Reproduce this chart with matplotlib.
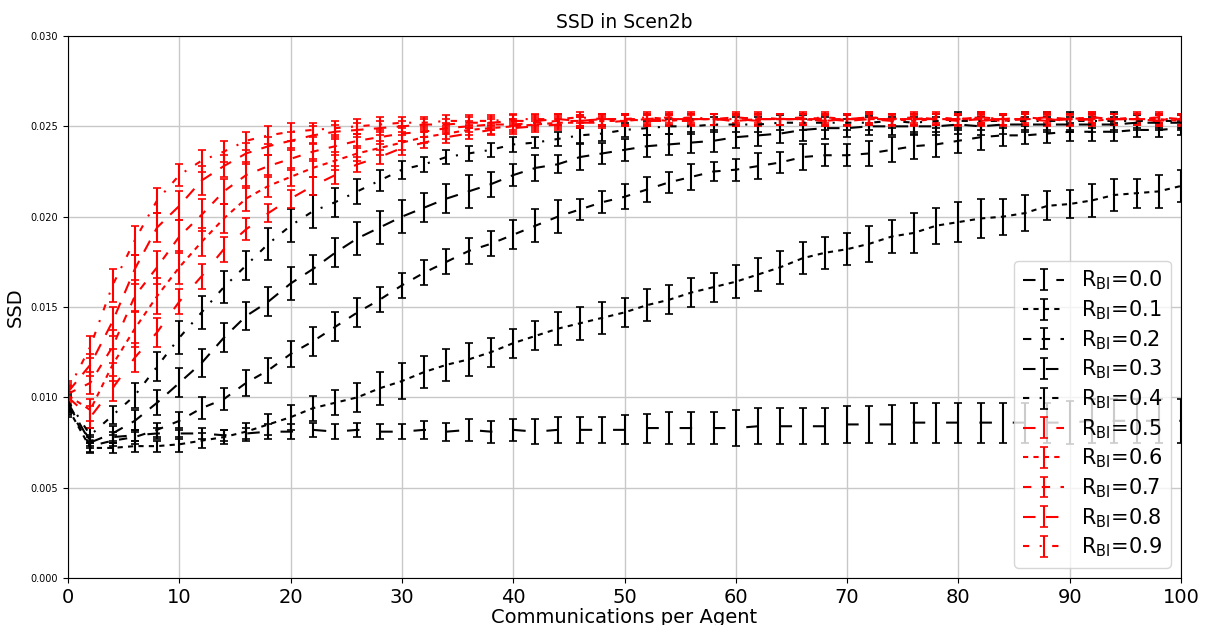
import matplotlib
matplotlib.use("Agg")
import matplotlib.pyplot as plt
from matplotlib.ticker import FormatStrFormatter
import numpy as np

# x positions: communications per agent
x = list(range(0, 101, 2))

labels = ["0.0", "0.1", "0.2", "0.3", "0.4", "0.5", "0.6", "0.7", "0.8", "0.9"]

s00 = [0.0096, 0.0076, 0.0078, 0.0079, 0.0080, 0.0080, 0.0080, 0.0079, 0.0080, 0.0081,
       0.0081, 0.0082, 0.0081, 0.0082, 0.0081, 0.0081, 0.0082, 0.0081, 0.0082, 0.0081,
       0.0082, 0.0081, 0.0082, 0.0082, 0.0082, 0.0082, 0.0083, 0.0083, 0.0083, 0.0083,
       0.0083, 0.0084, 0.0084, 0.0084, 0.0084, 0.0085, 0.0085, 0.0085, 0.0086, 0.0086,
       0.0086, 0.0086, 0.0086, 0.0086, 0.0086, 0.0086, 0.0087, 0.0087, 0.0087, 0.0087,
       0.0087]
e00 = [0.0005, 0.0003, 0.0003, 0.0003, 0.0003, 0.0003, 0.0003, 0.0003, 0.0003, 0.0004,
       0.0004, 0.0004, 0.0004, 0.0004, 0.0004, 0.0004, 0.0005, 0.0005, 0.0006, 0.0006,
       0.0006, 0.0007, 0.0007, 0.0007, 0.0007, 0.0008, 0.0008, 0.0009, 0.0009, 0.0009,
       0.0010, 0.0010, 0.0010, 0.0010, 0.0010, 0.0010, 0.0010, 0.0011, 0.0011, 0.0011,
       0.0011, 0.0011, 0.0011, 0.0011, 0.0011, 0.0012, 0.0012, 0.0012, 0.0012, 0.0012,
       0.0012]

s01 = [0.0094, 0.0072, 0.0072, 0.0073, 0.0073, 0.0074, 0.0076, 0.0078, 0.0081, 0.0085,
       0.0089, 0.0094, 0.0097, 0.0100, 0.0105, 0.0109, 0.0114, 0.0118, 0.0121, 0.0125,
       0.0130, 0.0134, 0.0138, 0.0141, 0.0144, 0.0147, 0.0151, 0.0154, 0.0158, 0.0161,
       0.0164, 0.0168, 0.0172, 0.0177, 0.0180, 0.0182, 0.0185, 0.0189, 0.0191, 0.0195,
       0.0197, 0.0199, 0.0200, 0.0202, 0.0206, 0.0207, 0.0209, 0.0212, 0.0213, 0.0214,
       0.0217]
e01 = [0.0005, 0.0003, 0.0003, 0.0003, 0.0003, 0.0004, 0.0004, 0.0004, 0.0005, 0.0006,
       0.0007, 0.0007, 0.0007, 0.0008, 0.0009, 0.0010, 0.0009, 0.0009, 0.0009, 0.0008,
       0.0008, 0.0008, 0.0009, 0.0009, 0.0009, 0.0008, 0.0009, 0.0008, 0.0008, 0.0008,
       0.0009, 0.0009, 0.0009, 0.0009, 0.0009, 0.0009, 0.0010, 0.0009, 0.0011, 0.0010,
       0.0011, 0.0011, 0.0010, 0.0010, 0.0008, 0.0008, 0.0009, 0.0009, 0.0008, 0.0009,
       0.0009]

s02 = [0.0095, 0.0073, 0.0076, 0.0078, 0.0082, 0.0087, 0.0094, 0.0099, 0.0108, 0.0115,
       0.0124, 0.0131, 0.0139, 0.0147, 0.0154, 0.0162, 0.0169, 0.0175, 0.0181, 0.0185,
       0.0190, 0.0195, 0.0200, 0.0204, 0.0208, 0.0211, 0.0215, 0.0219, 0.0222, 0.0225,
       0.0226, 0.0228, 0.0230, 0.0233, 0.0234, 0.0234, 0.0235, 0.0237, 0.0239, 0.0240,
       0.0242, 0.0244, 0.0245, 0.0245, 0.0246, 0.0247, 0.0247, 0.0247, 0.0248, 0.0248,
       0.0249]
e02 = [0.0005, 0.0003, 0.0003, 0.0004, 0.0004, 0.0005, 0.0006, 0.0006, 0.0007, 0.0007,
       0.0007, 0.0008, 0.0008, 0.0008, 0.0007, 0.0007, 0.0007, 0.0007, 0.0007, 0.0007,
       0.0008, 0.0009, 0.0009, 0.0006, 0.0006, 0.0007, 0.0007, 0.0006, 0.0007, 0.0005,
       0.0006, 0.0007, 0.0006, 0.0007, 0.0006, 0.0006, 0.0007, 0.0007, 0.0007, 0.0007,
       0.0007, 0.0007, 0.0006, 0.0005, 0.0005, 0.0005, 0.0005, 0.0005, 0.0004, 0.0004,
       0.0004]

s03 = [0.0097, 0.0075, 0.0080, 0.0087, 0.0097, 0.0108, 0.0119, 0.0133, 0.0145, 0.0153,
       0.0163, 0.0171, 0.0180, 0.0188, 0.0194, 0.0200, 0.0205, 0.0210, 0.0214, 0.0218,
       0.0223, 0.0227, 0.0229, 0.0233, 0.0235, 0.0237, 0.0239, 0.0240, 0.0241, 0.0242,
       0.0244, 0.0245, 0.0246, 0.0248, 0.0249, 0.0249, 0.0250, 0.0250, 0.0250, 0.0250,
       0.0251, 0.0250, 0.0251, 0.0251, 0.0251, 0.0251, 0.0251, 0.0251, 0.0252, 0.0252,
       0.0252]
e03 = [0.0005, 0.0003, 0.0004, 0.0006, 0.0007, 0.0008, 0.0008, 0.0008, 0.0008, 0.0008,
       0.0009, 0.0008, 0.0008, 0.0009, 0.0009, 0.0009, 0.0008, 0.0008, 0.0009, 0.0007,
       0.0006, 0.0007, 0.0005, 0.0007, 0.0006, 0.0006, 0.0006, 0.0006, 0.0006, 0.0006,
       0.0006, 0.0006, 0.0005, 0.0006, 0.0006, 0.0005, 0.0005, 0.0005, 0.0005, 0.0005,
       0.0005, 0.0005, 0.0005, 0.0004, 0.0004, 0.0004, 0.0004, 0.0004, 0.0004, 0.0004,
       0.0004]

s04 = [0.0098, 0.0079, 0.0090, 0.0101, 0.0117, 0.0133, 0.0147, 0.0161, 0.0173, 0.0185,
       0.0195, 0.0203, 0.0208, 0.0214, 0.0220, 0.0226, 0.0229, 0.0233, 0.0235, 0.0237,
       0.0240, 0.0241, 0.0243, 0.0245, 0.0246, 0.0248, 0.0249, 0.0250, 0.0250, 0.0251,
       0.0251, 0.0251, 0.0252, 0.0252, 0.0252, 0.0252, 0.0252, 0.0253, 0.0252, 0.0253,
       0.0253, 0.0253, 0.0253, 0.0253, 0.0253, 0.0253, 0.0253, 0.0253, 0.0253, 0.0253,
       0.0253]
e04 = [0.0005, 0.0004, 0.0005, 0.0007, 0.0008, 0.0009, 0.0009, 0.0009, 0.0008, 0.0009,
       0.0009, 0.0009, 0.0008, 0.0007, 0.0006, 0.0005, 0.0004, 0.0004, 0.0004, 0.0004,
       0.0004, 0.0003, 0.0004, 0.0004, 0.0004, 0.0004, 0.0004, 0.0004, 0.0004, 0.0004,
       0.0004, 0.0004, 0.0004, 0.0004, 0.0004, 0.0004, 0.0004, 0.0004, 0.0005, 0.0004,
       0.0005, 0.0005, 0.0004, 0.0005, 0.0005, 0.0005, 0.0004, 0.0005, 0.0004, 0.0004,
       0.0004]

s05 = [0.0100, 0.0089, 0.0105, 0.0122, 0.0136, 0.0153, 0.0167, 0.0182, 0.0193, 0.0202,
       0.0210, 0.0217, 0.0223, 0.0229, 0.0233, 0.0238, 0.0241, 0.0244, 0.0246, 0.0248,
       0.0249, 0.0250, 0.0251, 0.0252, 0.0252, 0.0253, 0.0253, 0.0253, 0.0253, 0.0254,
       0.0254, 0.0253, 0.0254, 0.0254, 0.0253, 0.0254, 0.0254, 0.0253, 0.0254, 0.0254,
       0.0254, 0.0253, 0.0254, 0.0254, 0.0254, 0.0253, 0.0254, 0.0254, 0.0254, 0.0253,
       0.0254]
e05 = [0.0005, 0.0006, 0.0007, 0.0008, 0.0008, 0.0007, 0.0007, 0.0007, 0.0006, 0.0005,
       0.0005, 0.0005, 0.0005, 0.0004, 0.0004, 0.0004, 0.0003, 0.0003, 0.0003, 0.0003,
       0.0003, 0.0003, 0.0003, 0.0003, 0.0003, 0.0003, 0.0003, 0.0003, 0.0003, 0.0003,
       0.0003, 0.0003, 0.0003, 0.0003, 0.0003, 0.0003, 0.0003, 0.0003, 0.0003, 0.0003,
       0.0003, 0.0003, 0.0003, 0.0003, 0.0003, 0.0003, 0.0003, 0.0003, 0.0003, 0.0003,
       0.0003]

s06 = [0.0101, 0.0093, 0.0118, 0.0138, 0.0156, 0.0172, 0.0186, 0.0199, 0.0210, 0.0217,
       0.0222, 0.0227, 0.0231, 0.0235, 0.0238, 0.0241, 0.0244, 0.0246, 0.0248, 0.0249,
       0.0250, 0.0251, 0.0252, 0.0252, 0.0253, 0.0253, 0.0254, 0.0253, 0.0254, 0.0254,
       0.0253, 0.0254, 0.0254, 0.0254, 0.0253, 0.0254, 0.0254, 0.0254, 0.0253, 0.0254,
       0.0254, 0.0254, 0.0253, 0.0254, 0.0254, 0.0254, 0.0253, 0.0254, 0.0254, 0.0254,
       0.0253]
e06 = [0.0005, 0.0006, 0.0009, 0.0010, 0.0010, 0.0009, 0.0008, 0.0008, 0.0007, 0.0006,
       0.0005, 0.0005, 0.0005, 0.0004, 0.0004, 0.0004, 0.0003, 0.0003, 0.0003, 0.0003,
       0.0003, 0.0003, 0.0003, 0.0003, 0.0003, 0.0003, 0.0003, 0.0003, 0.0003, 0.0003,
       0.0003, 0.0003, 0.0003, 0.0003, 0.0003, 0.0003, 0.0003, 0.0003, 0.0003, 0.0003,
       0.0003, 0.0003, 0.0003, 0.0003, 0.0003, 0.0003, 0.0003, 0.0003, 0.0003, 0.0003,
       0.0003]

s07 = [0.0102, 0.0108, 0.0128, 0.0156, 0.0172, 0.0189, 0.0201, 0.0214, 0.0223, 0.0228,
       0.0232, 0.0236, 0.0239, 0.0242, 0.0244, 0.0246, 0.0247, 0.0249, 0.0250, 0.0251,
       0.0251, 0.0252, 0.0253, 0.0253, 0.0254, 0.0254, 0.0254, 0.0255, 0.0254, 0.0254,
       0.0255, 0.0254, 0.0254, 0.0255, 0.0254, 0.0254, 0.0255, 0.0254, 0.0255, 0.0254,
       0.0254, 0.0255, 0.0254, 0.0254, 0.0255, 0.0254, 0.0255, 0.0254, 0.0254, 0.0255,
       0.0254]
e07 = [0.0005, 0.0006, 0.0009, 0.0009, 0.0009, 0.0009, 0.0009, 0.0007, 0.0007, 0.0006,
       0.0006, 0.0005, 0.0005, 0.0004, 0.0004, 0.0004, 0.0003, 0.0003, 0.0003, 0.0003,
       0.0003, 0.0003, 0.0003, 0.0003, 0.0003, 0.0003, 0.0003, 0.0003, 0.0003, 0.0003,
       0.0003, 0.0003, 0.0003, 0.0003, 0.0003, 0.0003, 0.0003, 0.0003, 0.0003, 0.0003,
       0.0003, 0.0003, 0.0003, 0.0003, 0.0003, 0.0003, 0.0003, 0.0003, 0.0003, 0.0003,
       0.0003]

s08 = [0.0103, 0.0118, 0.0142, 0.0171, 0.0194, 0.0206, 0.0220, 0.0228, 0.0235, 0.0239,
       0.0242, 0.0245, 0.0247, 0.0248, 0.0249, 0.0250, 0.0251, 0.0251, 0.0252, 0.0252,
       0.0253, 0.0253, 0.0254, 0.0253, 0.0254, 0.0254, 0.0253, 0.0254, 0.0254, 0.0254,
       0.0253, 0.0254, 0.0254, 0.0254, 0.0254, 0.0253, 0.0254, 0.0254, 0.0254, 0.0254,
       0.0253, 0.0254, 0.0254, 0.0254, 0.0253, 0.0254, 0.0254, 0.0254, 0.0254, 0.0253,
       0.0254]
e08 = [0.0005, 0.0006, 0.0008, 0.0008, 0.0008, 0.0008, 0.0008, 0.0006, 0.0006, 0.0005,
       0.0005, 0.0005, 0.0004, 0.0004, 0.0004, 0.0003, 0.0003, 0.0003, 0.0003, 0.0003,
       0.0003, 0.0003, 0.0003, 0.0003, 0.0003, 0.0003, 0.0003, 0.0003, 0.0003, 0.0003,
       0.0003, 0.0003, 0.0003, 0.0003, 0.0003, 0.0003, 0.0003, 0.0003, 0.0003, 0.0003,
       0.0003, 0.0003, 0.0003, 0.0003, 0.0003, 0.0003, 0.0003, 0.0003, 0.0003, 0.0003,
       0.0003]

s09 = [0.0104, 0.0128, 0.0162, 0.0187, 0.0209, 0.0223, 0.0231, 0.0236, 0.0242, 0.0245,
       0.0247, 0.0248, 0.0249, 0.0250, 0.0251, 0.0252, 0.0252, 0.0253, 0.0253, 0.0253,
       0.0254, 0.0254, 0.0254, 0.0255, 0.0254, 0.0254, 0.0255, 0.0254, 0.0255, 0.0254,
       0.0254, 0.0255, 0.0254, 0.0254, 0.0255, 0.0254, 0.0255, 0.0254, 0.0254, 0.0255,
       0.0254, 0.0255, 0.0254, 0.0255, 0.0254, 0.0254, 0.0255, 0.0254, 0.0255, 0.0254,
       0.0254]
e09 = [0.0005, 0.0006, 0.0009, 0.0008, 0.0007, 0.0006, 0.0006, 0.0006, 0.0005, 0.0005,
       0.0005, 0.0004, 0.0004, 0.0004, 0.0004, 0.0003, 0.0003, 0.0003, 0.0003, 0.0003,
       0.0003, 0.0003, 0.0003, 0.0003, 0.0003, 0.0003, 0.0003, 0.0003, 0.0003, 0.0003,
       0.0003, 0.0003, 0.0003, 0.0003, 0.0003, 0.0003, 0.0003, 0.0003, 0.0003, 0.0003,
       0.0003, 0.0003, 0.0003, 0.0003, 0.0003, 0.0003, 0.0003, 0.0003, 0.0003, 0.0003,
       0.0003]

series = [s00, s01, s02, s03, s04, s05, s06, s07, s08, s09]
errors = [e00, e01, e02, e03, e04, e05, e06, e07, e08, e09]

styles = [(0, (6, 10)), (0, (2.5, 2.5)), (0, (4, 5)), (0, (6, 5)), (0, (3, 5, 1, 5))]
colors = ["black"] * 5 + ["red"] * 5

fig = plt.figure(figsize=(12.06, 6.25), dpi=100)
ax = fig.add_axes([0.0564, 0.0752, 0.9229, 0.8672])

for i, (ys, es) in enumerate(zip(series, errors)):
    ax.errorbar(x, ys, yerr=es, color=colors[i], linestyle=styles[i % 5],
                linewidth=1.5, elinewidth=1.5, capsize=3, capthick=1.2,
                label=r"R$_{\mathregular{BI}}$=" + labels[i])

ax.set_xlim(0, 100)
ax.set_ylim(0, 0.030)
ax.set_xticks(range(0, 101, 10))
ax.set_yticks(np.arange(0, 0.0301, 0.005))
ax.yaxis.set_major_formatter(FormatStrFormatter("%.3f"))
ax.tick_params(axis="x", labelsize=14)
ax.tick_params(axis="y", labelsize=7)
ax.grid(True, color="#c8c8c8", linewidth=1.0)
ax.set_axisbelow(True)

ax.set_title("SSD in Scen2b", fontsize=13.5)
ax.set_xlabel("Communications per Agent", fontsize=14, labelpad=1)
ax.set_ylabel("SSD", fontsize=14)

ax.legend(loc="lower right", fontsize=15, labelspacing=0.29)

fig.savefig("out.png", dpi=100)
